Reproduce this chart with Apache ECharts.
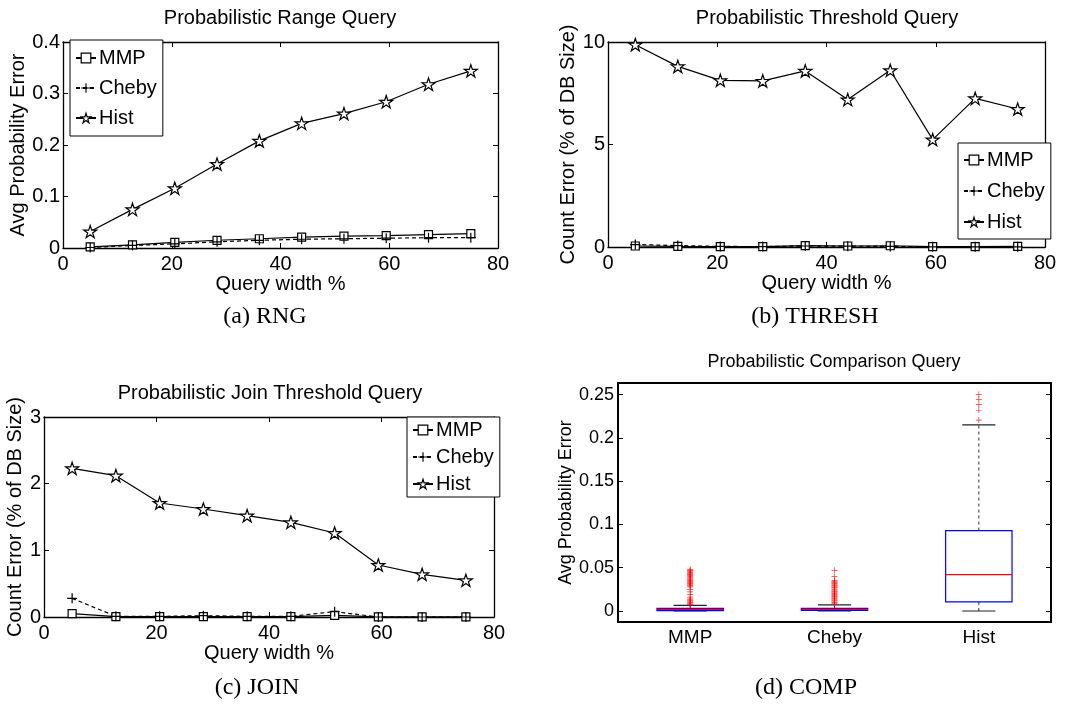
<!DOCTYPE html>
<html>
<head>
<meta charset="utf-8">
<script src="https://cdn.jsdelivr.net/npm/echarts@6/dist/echarts.min.js"></script>
<style>
  html, body { margin: 0; padding: 0; background: #fff; }
  #main { width: 1089px; height: 704px; }
</style>
</head>
<body>
<div id="main"></div>
<script>
// x positions (query width %) shared by panels a, b, c
var queryWidth = [5, 12.78, 20.56, 28.33, 36.11, 43.89, 51.67, 59.44, 67.22, 75];

// (a) RNG - avg probability error
var rngMMP   = [0.002, 0.006, 0.011, 0.015, 0.018, 0.021, 0.023, 0.024, 0.026, 0.028];
var rngCheby = [0.001, 0.005, 0.008, 0.012, 0.015, 0.017, 0.018, 0.019, 0.020, 0.020];
var rngHist  = [0.032, 0.075, 0.116, 0.163, 0.208, 0.242, 0.261, 0.284, 0.318, 0.344];

// (b) THRESH - count error (% of DB size)
var thrMMP   = [0.05, 0.03, 0.02, 0.02, 0.07, 0.05, 0.06, 0.02, 0.02, 0.03];
var thrCheby = [0.12, 0.07, 0.03, 0.02, 0.05, 0.04, 0.03, 0.01, 0.01, 0.01];
var thrHist  = [9.87, 8.81, 8.13, 8.10, 8.59, 7.19, 8.62, 5.24, 7.25, 6.73];

// (c) JOIN - count error (% of DB size)
var joinMMP   = [0.05, 0.005, 0.005, 0.005, 0.005, 0.005, 0.025, 0.003, 0.003, 0.003];
var joinCheby = [0.28, 0.01, 0.01, 0.02, 0.01, 0.01, 0.08, 0.0, 0.0, 0.0];
var joinHist  = [2.23, 2.12, 1.71, 1.62, 1.52, 1.42, 1.26, 0.78, 0.64, 0.55];

// (d) COMP - box plot summary
var boxCategories = ['MMP', 'Cheby', 'Hist'];
var boxLow    = [0, 0, 0];
var boxQ1     = [0.0005, 0.0006, 0.0105];
var boxMedian = [0.002, 0.002, 0.042];
var boxQ3     = [0.003, 0.003, 0.093];
var boxHigh   = [0.0066, 0.0072, 0.215];
// outliers
var outMMP   = [0.048, 0.047, 0.046, 0.045, 0.044, 0.043, 0.042, 0.041, 0.040, 0.039, 0.038, 0.037,
                0.036, 0.035, 0.034, 0.033, 0.032, 0.031, 0.030, 0.029, 0.028, 0.025, 0.022, 0.019,
                0.016, 0.014, 0.013, 0.012, 0.011, 0.010, 0.009, 0.008, 0.007];
var outCheby = [0.047, 0.040, 0.035, 0.034, 0.033, 0.032, 0.031, 0.030, 0.029, 0.028, 0.027, 0.026,
                0.025, 0.024, 0.023, 0.022, 0.021, 0.020, 0.019, 0.018, 0.017, 0.016, 0.015, 0.014,
                0.013, 0.012, 0.011, 0.010, 0.009, 0.008];
var outHist  = [0.2207, 0.232, 0.2385, 0.2447, 0.2504];

var SANS = 'Liberation Sans';
var SERIF = 'Liberation Serif';
var STAR = 'path://M0,-10L2.245,-3.09L9.51,-3.09L3.633,1.18L5.88,8.09L0,3.82L-5.88,8.09L-3.633,1.18L-9.51,-3.09L-2.245,-3.09Z';
var PLUS = 'path://M-0.6,-5L0.6,-5L0.6,-0.6L5,-0.6L5,0.6L0.6,0.6L0.6,5L-0.6,5L-0.6,0.6L-5,0.6L-5,-0.6L-0.6,-0.6Z';

var hollow = { color: '#fff', borderColor: '#000', borderWidth: 1.2 };
var solid = { color: '#000', borderWidth: 0 };

function pairs(ys) {
  return queryWidth.map(function (x, i) { return [x, ys[i]]; });
}

function baseAxis(gi, pos, lineW) {
  return {
    gridIndex: gi,
    position: pos,
    axisLine: { show: true, onZero: false, lineStyle: { color: '#000', width: lineW } },
    axisTick: { show: true, inside: true, length: 5, lineStyle: { color: '#000' } },
    splitLine: { show: false },
    axisLabel: { show: false }
  };
}

var xAxes = [], yAxes = [];

function addLineAxes(gi, yMax, yInterval, yName, yGap) {
  var xb = baseAxis(gi, 'bottom', 1.3);
  xb.type = 'value'; xb.min = 0; xb.max = 80; xb.interval = 20;
  xb.axisLabel = { show: true, color: '#000', fontSize: 20, fontFamily: SANS, margin: 6 };
  xb.name = 'Query width %';
  xb.nameLocation = 'middle';
  xb.nameGap = 24;
  xb.nameTextStyle = { color: '#000', fontSize: 20, fontFamily: SANS };
  var xt = baseAxis(gi, 'top', 1.3);
  xt.type = 'value'; xt.min = 0; xt.max = 80; xt.interval = 20;
  var yl = baseAxis(gi, 'left', 1.3);
  yl.type = 'value'; yl.min = 0; yl.max = yMax; yl.interval = yInterval;
  yl.axisLabel = { show: true, color: '#000', fontSize: 20, fontFamily: SANS, margin: 3 };
  yl.name = yName;
  yl.nameLocation = 'middle';
  yl.nameGap = yGap;
  yl.nameTextStyle = { color: '#000', fontSize: 20, fontFamily: SANS };
  var yr = baseAxis(gi, 'right', 1.3);
  yr.type = 'value'; yr.min = 0; yr.max = yMax; yr.interval = yInterval;
  xAxes.push(xb, xt);
  yAxes.push(yl, yr);
}

addLineAxes(0, 0.4, 0.1, 'Avg Probability Error', 35);
addLineAxes(1, 10, 5, 'Count Error (% of DB Size)', 30);
addLineAxes(2, 3, 1, 'Count Error (% of DB Size)', 16);

// (d) axes
var dYMin = -0.0127, dYMax = 0.2635;
var dxb = baseAxis(3, 'bottom', 2);
dxb.type = 'category'; dxb.data = boxCategories; dxb.boundaryGap = true;
dxb.axisTick = { show: false };
dxb.axisLabel = { show: true, color: '#000', fontSize: 19, fontFamily: SANS, margin: 6 };
var dxt = baseAxis(3, 'top', 2);
dxt.type = 'category'; dxt.data = boxCategories; dxt.boundaryGap = true;
dxt.axisTick = { show: false };
var dyl = baseAxis(3, 'left', 2);
dyl.type = 'value'; dyl.min = dYMin; dyl.max = dYMax; dyl.splitNumber = 5;
dyl.axisLabel = {
  show: true, color: '#000', fontSize: 18, fontFamily: SANS, margin: 4,
  formatter: function (v) {
    var r = Math.round(v / 0.05);
    if (Math.abs(v - r * 0.05) > 1e-6) return '';
    return String(+v.toFixed(2));
  }
};
dyl.name = 'Avg Probability Error';
dyl.nameLocation = 'middle';
dyl.nameGap = 41;
dyl.nameTextStyle = { color: '#000', fontSize: 18, fontFamily: SANS };
var dyr = baseAxis(3, 'right', 2);
dyr.type = 'value'; dyr.min = dYMin; dyr.max = dYMax; dyr.splitNumber = 5;
xAxes.push(dxb, dxt);
yAxes.push(dyl, dyr);

function lineSeries(name, gi, ys) {
  var s = {
    name: name,
    type: 'line',
    xAxisIndex: gi * 2,
    yAxisIndex: gi * 2,
    data: pairs(ys),
    showAllSymbol: true,
    symbolKeepAspect: true,
    lineStyle: { color: '#000', width: 1.2, type: 'solid' },
    emphasis: { disabled: true }
  };
  if (name === 'MMP') {
    s.symbol = 'rect'; s.symbolSize = 8;
    s.itemStyle = hollow;
  } else if (name === 'Cheby') {
    s.symbol = PLUS; s.symbolSize = 10;
    s.lineStyle.type = [4, 3];
    s.itemStyle = solid;
  } else {
    s.symbol = STAR; s.symbolSize = 13;
    s.itemStyle = hollow;
  }
  return s;
}

var series = [
  lineSeries('MMP', 0, rngMMP), lineSeries('Cheby', 0, rngCheby), lineSeries('Hist', 0, rngHist),
  lineSeries('MMP', 1, thrMMP), lineSeries('Cheby', 1, thrCheby), lineSeries('Hist', 1, thrHist),
  lineSeries('MMP', 2, joinMMP), lineSeries('Cheby', 2, joinCheby), lineSeries('Hist', 2, joinHist)
];

// box plot drawn through the category / value scales
series.push({
  type: 'custom',
  xAxisIndex: 6,
  yAxisIndex: 6,
  encode: { x: 0, y: [1, 2, 3, 4, 5] },
  data: boxCategories.map(function (c, i) {
    return [i, boxLow[i], boxQ1[i], boxMedian[i], boxQ3[i], boxHigh[i]];
  }),
  renderItem: function (params, api) {
    var idx = api.value(0);
    var lo = api.coord([idx, api.value(1)]);
    var q1 = api.coord([idx, api.value(2)]);
    var md = api.coord([idx, api.value(3)]);
    var q3 = api.coord([idx, api.value(4)]);
    var hi = api.coord([idx, api.value(5)]);
    var band = api.size([1, 0])[0];
    var bw = band * 0.46, cw = bw / 2, cx = q1[0];
    var wStyle = { stroke: '#333', lineWidth: 1, lineDash: [3, 3] };
    var cStyle = { stroke: '#222', lineWidth: 1.2 };
    return {
      type: 'group',
      children: [
        { type: 'line', shape: { x1: cx, y1: q3[1], x2: cx, y2: hi[1] }, style: wStyle },
        { type: 'line', shape: { x1: cx, y1: lo[1], x2: cx, y2: q1[1] }, style: wStyle },
        { type: 'line', shape: { x1: cx - cw / 2, y1: hi[1], x2: cx + cw / 2, y2: hi[1] }, style: cStyle },
        { type: 'line', shape: { x1: cx - cw / 2, y1: lo[1], x2: cx + cw / 2, y2: lo[1] }, style: cStyle },
        { type: 'rect', shape: { x: cx - bw / 2, y: q3[1], width: bw, height: Math.max(q1[1] - q3[1], 1) },
          style: { fill: 'none', stroke: '#0000ff', lineWidth: 1.2 } },
        { type: 'line', shape: { x1: cx - bw / 2, y1: md[1], x2: cx + bw / 2, y2: md[1] },
          style: { stroke: '#ff0000', lineWidth: 1.2 } }
      ]
    };
  }
});

function outlierSeries(cat, vals) {
  return {
    type: 'scatter',
    xAxisIndex: 6,
    yAxisIndex: 6,
    symbol: PLUS,
    symbolSize: 6,
    itemStyle: { color: '#ff0000' },
    data: vals.map(function (v) { return [cat, v]; }),
    emphasis: { disabled: true },
    z: 3
  };
}
series.push(outlierSeries('MMP', outMMP), outlierSeries('Cheby', outCheby), outlierSeries('Hist', outHist));

function legendAt(left, top, gap, pad) {
  return {
    orient: 'vertical',
    left: left,
    top: top,
    data: [
      { name: 'MMP', itemStyle: hollow },
      { name: 'Cheby', itemStyle: solid },
      { name: 'Hist', itemStyle: hollow }
    ],
    itemWidth: 20,
    itemHeight: 12,
    itemGap: gap,
    padding: pad,
    borderColor: '#000',
    borderWidth: 1,
    borderRadius: 0,
    backgroundColor: '#fff',
    selectedMode: false,
    textStyle: { color: '#000', fontSize: 20, fontFamily: SANS, padding: [0, 0, 0, -2] }
  };
}

function label(text, x, y, size, family) {
  return {
    type: 'text', x: x, y: y, silent: true,
    style: { text: text, fill: '#000', font: size + 'px "' + family + '"', align: 'center', verticalAlign: 'middle' }
  };
}

var option = {
  animation: false,
  backgroundColor: '#fff',
  grid: [
    { left: 63, top: 42, width: 435, height: 206, outerBoundsMode: 'none' },
    { left: 608, top: 42, width: 437, height: 205, outerBoundsMode: 'none' },
    { left: 44, top: 417, width: 450, height: 200, outerBoundsMode: 'none' },
    { left: 618, top: 383, width: 433, height: 239, outerBoundsMode: 'none' }
  ],
  xAxis: xAxes,
  yAxis: yAxes,
  legend: [
    legendAt(70, 40, 10, [8, 6, 8, 5]),
    legendAt(958, 143, 11, [7, 6, 7, 5]),
    legendAt(407, 417, 7, [3, 6, 3, 5])
  ],
  graphic: [
    label('Probabilistic Range Query', 280, 18, 20, SANS),
    label('Probabilistic Threshold Query', 827, 18, 20, SANS),
    label('Probabilistic Join Threshold Query', 270, 393, 20, SANS),
    label('Probabilistic Comparison Query', 834, 362, 18, SANS),
    label('(a) RNG', 265, 317, 24, SERIF),
    label('(b) THRESH', 815, 317, 24, SERIF),
    label('(c) JOIN', 257, 688, 24, SERIF),
    label('(d) COMP', 806, 688, 24, SERIF)
  ],
  series: series
};

var chart = echarts.init(document.getElementById('main'));
chart.setOption(option);
</script>
</body>
</html>
